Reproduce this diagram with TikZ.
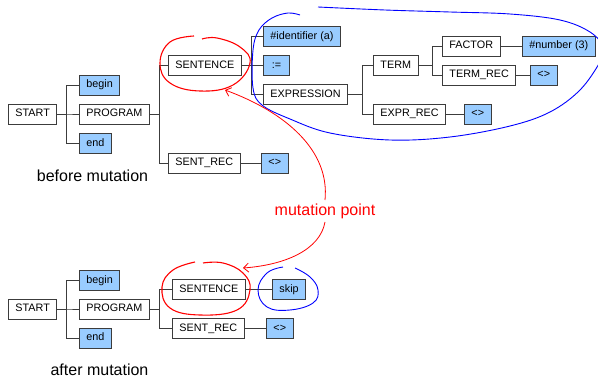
\documentclass[tikz,border=0pt]{standalone}
\usepackage{fontspec}
\setmainfont{Liberation Sans}
\usetikzlibrary{arrows.meta}
\definecolor{tokblue}{RGB}{153,204,255}
\definecolor{boxline}{RGB}{60,60,60}

\begin{document}
\begin{tikzpicture}[x=1pt,y=-1pt,>={Straight Barb[length=5pt,width=9pt]},
 font=\fontsize{10.8}{12}\selectfont,
 nt/.style={draw=boxline,line width=0.9pt,fill=white,inner xsep=7pt,minimum height=20pt,
  minimum width=26pt,text height=8pt,text depth=2.5pt,anchor=west},
 tk/.style={nt,fill=tokblue},
 link/.style={draw=boxline,line width=0.8pt},
 caption/.style={font=\fontsize{16}{18}\selectfont},
 redhand/.style={red,line width=1.1pt},
 bluehand/.style={blue,line width=0.9pt}]
 \useasboundingbox (0,0) rectangle (598,380);
 % tree before the mutation
 \node[nt] (start1) at (8,114) {START};
 \node[tk] (begin1) at (79,85) {begin};
 \node[nt] (program1) at (79,114) {PROGRAM};
 \node[tk] (end1) at (79,143.5) {end};
 \node[nt] (sentence1) at (168,65.5) {SENTENCE};
 \node[nt] (sentrec1) at (168,163) {SENT\_REC};
 \node[tk] (sreps1) at (261,163) {<>};
 \node[tk] (ident) at (263,36.5) {\#identifier (a)};
 \node[tk] (assign) at (263,65.5) {:=};
 \node[nt] (expr) at (263,94.5) {EXPRESSION};
 \node[nt] (term) at (373,65.5) {TERM};
 \node[nt] (exprrec) at (373,114) {EXPR\_REC};
 \node[tk] (ereps) at (464,114) {<>};
 \node[nt] (factor) at (442,46) {FACTOR};
 \node[nt] (termrec) at (442,75) {TERM\_REC};
 \node[tk] (number) at (522,46) {\#number (3)};
 \node[tk] (treps) at (530,75) {<>};
 \foreach \c in {begin1,program1,end1} \draw[link] (start1.east) -- ++(9,0) |- (\c.west);
 \foreach \c in {sentence1,sentrec1} \draw[link] (program1.east) -- ++(10,0) |- (\c.west);
 \foreach \c in {ident,assign,expr} \draw[link] (sentence1.east) -- ++(10,0) |- (\c.west);
 \foreach \c in {term,exprrec} \draw[link] (expr.east) -- ++(14,0) |- (\c.west);
 \foreach \c in {factor,termrec} \draw[link] (term.east) -- ++(14,0) |- (\c.west);
 \draw[link] (sentrec1) -- (sreps1);
 \draw[link] (exprrec) -- (ereps);
 \draw[link] (factor) -- (number);
 \draw[link] (termrec) -- (treps);
 \node[caption] (before) at (92.5,176) {before mutation};
 % tree after the mutation
 \node[nt] (start2) at (8,309) {START};
 \node[tk] (begin2) at (79,280.5) {begin};
 \node[nt] (program2) at (79,309) {PROGRAM};
 \node[tk] (end2) at (79,338) {end};
 \node[nt] (sentence2) at (172,289.5) {SENTENCE};
 \node[nt] (sentrec2) at (172,328.5) {SENT\_REC};
 \node[tk] (skip) at (272,289.5) {skip};
 \node[tk] (sreps2) at (266,328.5) {<>};
 \foreach \c in {begin2,program2,end2} \draw[link] (start2.east) -- ++(9,0) |- (\c.west);
 \foreach \c in {sentence2,sentrec2} \draw[link] (program2.east) -- ++(10,0) |- (\c.west);
 \draw[link] (sentence2) -- (skip);
 \draw[link] (sentrec2) -- (sreps2);
 \node[caption] (after) at (99.5,370) {after mutation};
 % hand drawn marks
 \draw[bluehand] plot[smooth,tension=0.6] coordinates {(300,15) (288,13) (272,18) (259,30)
  (253,50) (253,88) (262,105) (290,119) (330,133) (390,140) (450,137) (510,126) (550,112)
  (580,90) (600,62) (604,48) (590,32) (560,20) (510,14) (450,12) (385,10) (318,7)};
 \draw[bluehand] plot[smooth,tension=0.7] coordinates {(283,267) (267,273) (258,290) (267,307)
  (290,310) (313,303) (318,290) (310,277) (295,268)};
 \draw[redhand] plot[smooth,tension=0.7] coordinates {(194,36) (170,42) (160,63) (170,83)
  (200,91) (233,85) (250,63) (240,47) (217,38) (202,39)};
 \draw[redhand] plot[smooth,tension=0.7] coordinates {(195,262) (173,270) (162,287) (170,308)
  (200,315) (237,310) (250,290) (243,273) (223,263) (203,263)};
 \node[caption,text=red] (mp) at (325,211) {mutation point};
 \coordinate (hit1) at (225,90);
 \coordinate (hit2) at (243,268);
 \draw[red,line width=0.8pt,->] (mp.north) .. controls (330,150) and (285,112) .. (hit1);
 \draw[red,line width=0.8pt,->] (mp.south) .. controls (320,250) and (285,265) .. (hit2);
\end{tikzpicture}
\end{document}
